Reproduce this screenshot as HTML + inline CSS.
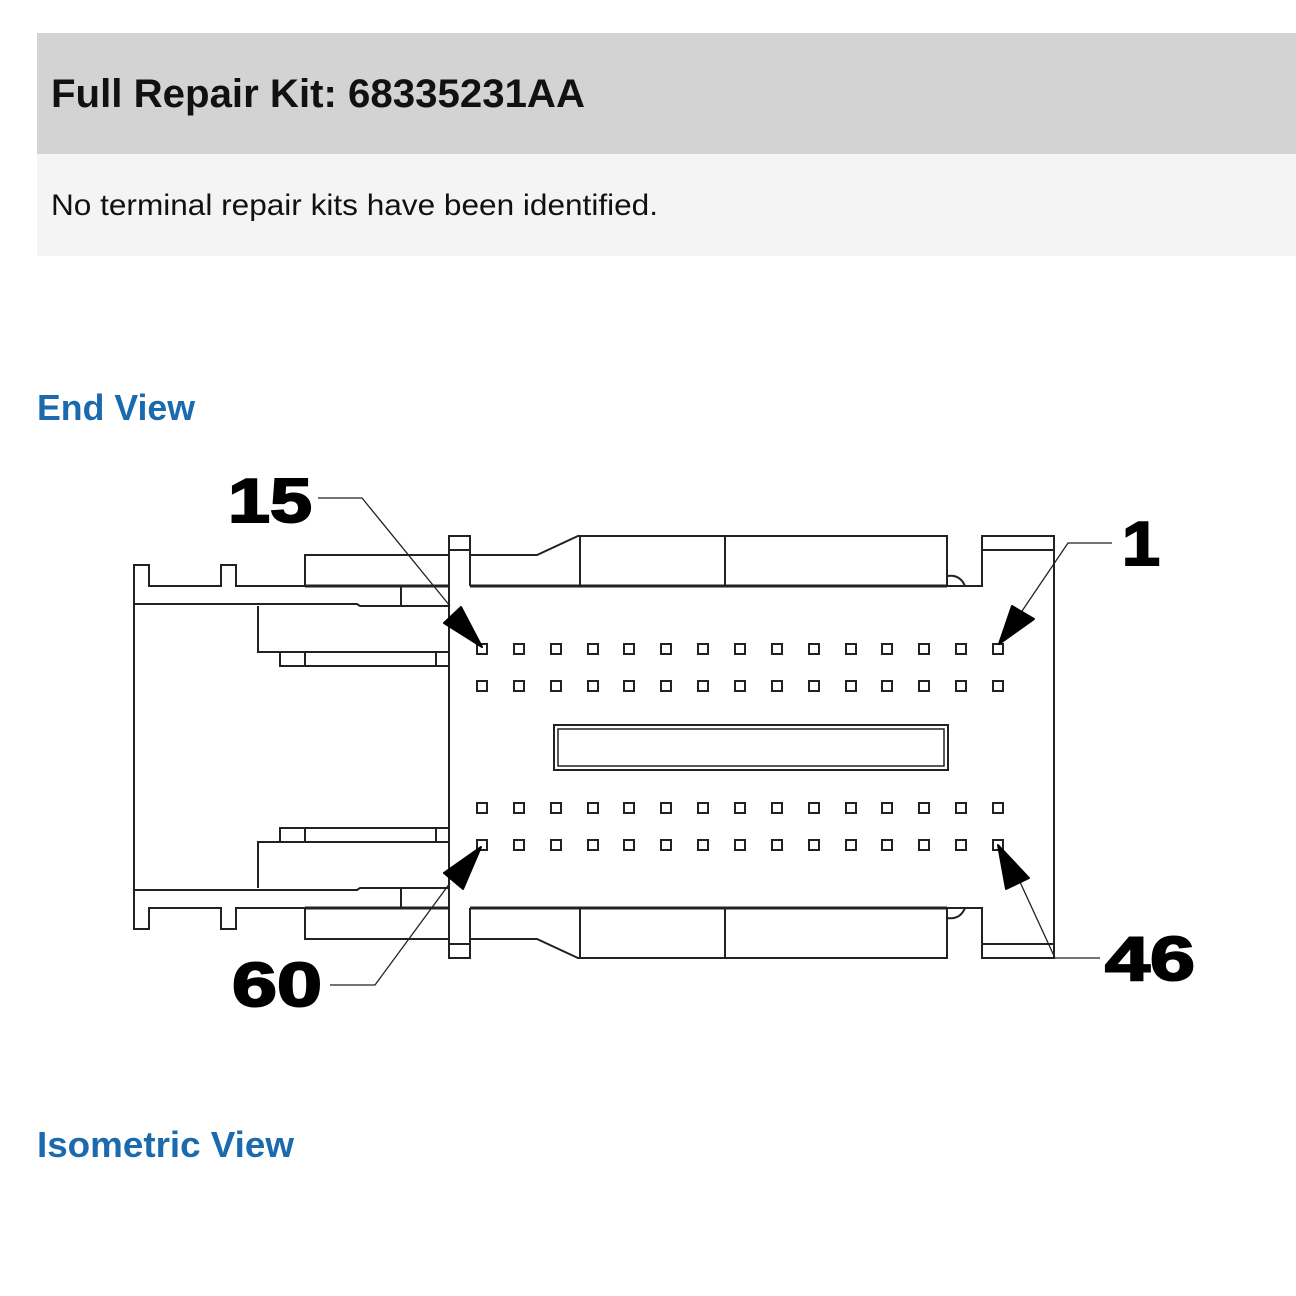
<!DOCTYPE html>
<html><head><meta charset="utf-8"><style>html,body{margin:0;padding:0;background:#fff}svg{display:block}</style></head>
<body>
<svg width="1296" height="1296" viewBox="0 0 1296 1296" xmlns="http://www.w3.org/2000/svg" font-family="Liberation Sans, sans-serif">
<rect x="37" y="33" width="1259" height="121" fill="#d3d3d3"/>
<rect x="37" y="154" width="1259" height="102" fill="#f4f4f4"/>
<text x="51" y="107" font-size="40" font-weight="bold" fill="#111" textLength="534" lengthAdjust="spacingAndGlyphs">Full Repair Kit: 68335231AA</text>
<text x="51" y="215" font-size="30" fill="#111" textLength="607" lengthAdjust="spacingAndGlyphs">No terminal repair kits have been identified.</text>
<text x="37" y="420" font-size="36" font-weight="bold" fill="#1a6aad" textLength="158" lengthAdjust="spacingAndGlyphs">End View</text>
<text x="37" y="1157" font-size="36" font-weight="bold" fill="#1a6aad" textLength="257" lengthAdjust="spacingAndGlyphs">Isometric View</text>

<g fill="none" stroke="#222" stroke-width="2">
  <g id="half">
    <path d="M134 747 V565 H149 V586 H221 V565 H236 V586 H305"/>
    <rect x="305" y="555" width="144" height="31"/>
    <line x1="305" y1="586" x2="449" y2="586" stroke-width="3"/>
    <path d="M134 604 H357 L360 606 H449"/>
    <line x1="401" y1="586" x2="401" y2="606"/>
    <path d="M449 652 H258 V606"/>
    <path d="M449 666 H280 V652 M305 652 V666 M436 652 V666"/>
    <path d="M449 747 V536 H470 V586 M449 550 H470"/>
    <path d="M470 555 H537 L578 536 H947 V586 H470" />
    <line x1="470" y1="586" x2="947" y2="586" stroke-width="3"/>
    <line x1="580" y1="536" x2="580" y2="586"/>
    <line x1="725" y1="536" x2="725" y2="586"/>
    <path d="M947 576 Q960 574 965 586"/>
    <path d="M947 586 H982 V536 H1054 V747 M982 550 H1054"/>
  </g>
  <use href="#half" transform="translate(0,1494) scale(1,-1)"/>
  <rect x="554" y="725" width="394" height="45"/>
  <rect x="558" y="729" width="386" height="37" stroke-width="1.5"/>
</g>
<g fill="none" stroke="#222" stroke-width="2">
  <g id="row">
    <rect x="477" y="644" width="10" height="10"/><rect x="514" y="644" width="10" height="10"/><rect x="551" y="644" width="10" height="10"/><rect x="588" y="644" width="10" height="10"/><rect x="624" y="644" width="10" height="10"/><rect x="661" y="644" width="10" height="10"/><rect x="698" y="644" width="10" height="10"/><rect x="735" y="644" width="10" height="10"/><rect x="772" y="644" width="10" height="10"/><rect x="809" y="644" width="10" height="10"/><rect x="846" y="644" width="10" height="10"/><rect x="882" y="644" width="10" height="10"/><rect x="919" y="644" width="10" height="10"/><rect x="956" y="644" width="10" height="10"/><rect x="993" y="644" width="10" height="10"/>
  </g>
  <use href="#row" y="37"/>
  <use href="#row" y="159"/>
  <use href="#row" y="196"/>
</g>

<g stroke="#222" stroke-width="1.3" fill="none">
  <path d="M318 498 H362 L450 606"/>
  <path d="M1112 543 H1068 L1020 614"/>
  <path d="M1100 958 H1055 L1020 882"/>
  <path d="M330 985 H375 L450 883"/>
</g>
<g fill="#000" stroke="#000" stroke-width="2" stroke-linejoin="round">
  <polygon points="482,647 444,623 461,607"/>
  <polygon points="999,644 1012,606 1034,619"/>
  <polygon points="998,845 1006,889 1029,878"/>
  <polygon points="481,847 444,873 463,889"/>
</g>
<g font-weight="bold" font-size="62" fill="#000" stroke="#000" stroke-width="2">
  <text x="228" y="522" textLength="84" lengthAdjust="spacingAndGlyphs">15</text>
  <text x="1122" y="565" textLength="38" lengthAdjust="spacingAndGlyphs">1</text>
  <text x="1105" y="980" textLength="90" lengthAdjust="spacingAndGlyphs">46</text>
  <text x="232" y="1006" textLength="90" lengthAdjust="spacingAndGlyphs">60</text>
</g>
</svg>
</body></html>
